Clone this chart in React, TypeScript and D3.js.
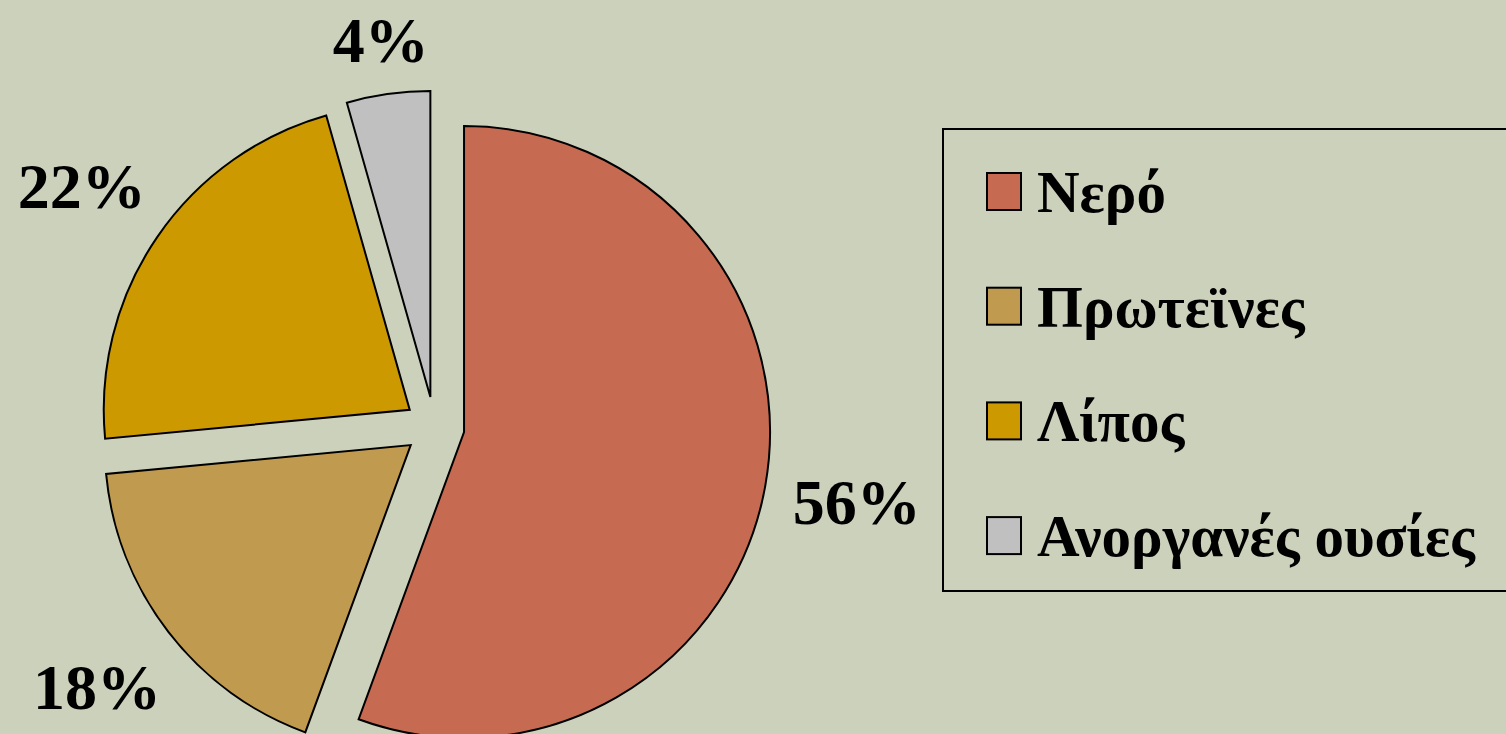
import React from "react";
import * as d3 from "d3";

const categories = ["Νερό", "Πρωτεϊνες", "Λίπος", "Ανοργανές ουσίες"];
const values = [55.6, 17.9, 22.1, 4.4];
const colors = ["#C76A52", "#C09A4E", "#CC9900", "#C0C0C0"];

const W = 1506;
const H = 734;
const BG = "#CCD1BB";

export default function App() {
  const cx = 434.5;
  const cy = 426.8;
  const r = 306;
  const explode = 30;
  const labelR0 = 362;
  const labelFont = 64;
  const capH = labelFont * 0.69;

  const pie = d3.pie<number>().sort(null).value((d) => d);
  const arcs = pie(values);
  const arc = d3.arc<d3.PieArcDatum<number>>().innerRadius(0).outerRadius(r);
  const total = d3.sum(values);

  const legendX = 943;
  const legendY = 129;
  const legendH = 462;
  const itemY0 = 191;
  const itemStep = 114.7;

  return (
    <svg
      width={W}
      height={H}
      style={{ position: "absolute", left: 0, top: 0, background: BG }}
      fontFamily="'Liberation Serif', 'Times New Roman', serif"
    >
      <rect x={0} y={0} width={W} height={H} fill={BG} />
      <g transform={`translate(${cx},${cy})`}>
        {arcs.map((a, i) => {
          const mid = (a.startAngle + a.endAngle) / 2;
          const dx = Math.sin(mid) * explode;
          const dy = -Math.cos(mid) * explode;
          return (
            <path
              key={i}
              d={arc(a) || ""}
              transform={`translate(${dx},${dy})`}
              fill={colors[i]}
              stroke="#000"
              strokeWidth={2}
              strokeLinejoin="miter"
            />
          );
        })}
        {arcs.map((a, i) => {
          const mid = (a.startAngle + a.endAngle) / 2;
          const ux = Math.sin(mid);
          const uy = -Math.cos(mid);
          const label = Math.round((values[i] / total) * 100) + "%";
          const w = (label.length - 1) * 0.5 * labelFont + labelFont;
          const dist = labelR0 + Math.abs(ux) * w / 2 + Math.abs(uy) * capH / 2;
          const lx = ux * dist;
          const ly = uy * dist;
          return (
            <text
              key={i}
              x={lx}
              y={ly + capH / 2}
              textAnchor="middle"
              fontSize={labelFont}
              fontWeight="bold"
              fill="#000"
            >
              {label}
            </text>
          );
        })}
      </g>
      <rect
        x={legendX}
        y={legendY}
        width={700}
        height={legendH}
        fill="none"
        stroke="#000"
        strokeWidth={2}
      />
      {categories.map((c, i) => {
        const y = itemY0 + i * itemStep;
        return (
          <g key={c}>
            <rect
              x={987}
              y={y - 18}
              width={34}
              height={37}
              fill={colors[i]}
              stroke="#000"
              strokeWidth={2}
            />
            <text
              x={1037}
              y={y + 21}
              fontSize={59}
              fontWeight="bold"
              fill="#000"
            >
              {c}
            </text>
          </g>
        );
      })}
    </svg>
  );
}
